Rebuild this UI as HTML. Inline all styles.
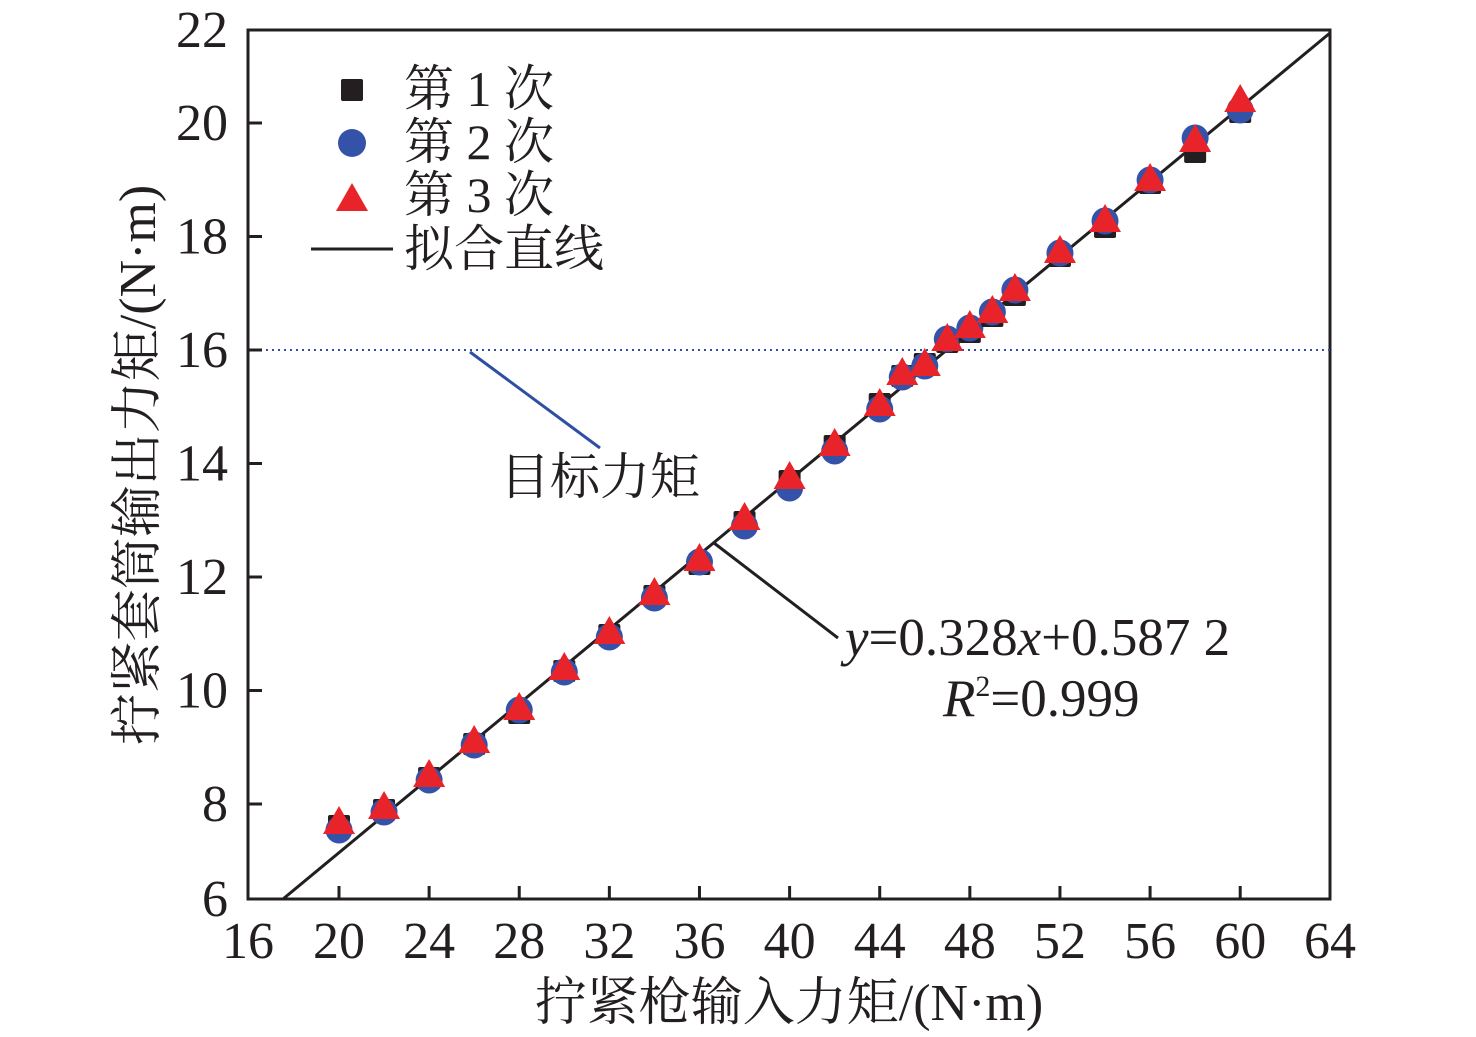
<!DOCTYPE html>
<html><head><meta charset="utf-8"><style>
html,body{margin:0;padding:0;background:#fff;}
svg{display:block;}
text{font-family:"Liberation Serif","Noto Serif CJK SC",serif;fill:#231f20;}
</style></head><body>
<svg id="s" width="1476" height="1037" viewBox="0 0 1476 1037" xmlns="http://www.w3.org/2000/svg">
<rect x="248" y="30" width="1082" height="869" fill="none" stroke="#231f20" stroke-width="3"/>
<line x1="248" y1="350" x2="1330" y2="350" stroke="#2f4fa2" stroke-width="2" stroke-dasharray="2,4"/>
<g id="ticks" stroke="#231f20" stroke-width="3"></g>
<g font-size="52" text-anchor="end" id="ylab"></g>
<g font-size="52" text-anchor="middle" id="xlab"></g>
<line x1="283" y1="899" x2="1330" y2="33" stroke="#231f20" stroke-width="3"/>
<g id="pts"></g>
<rect x="341" y="79" width="22" height="22" rx="2" fill="#231f20"/>
<circle cx="352" cy="143" r="14" fill="#3452a8"/>
<polygon points="352,183 336,211 368,211" fill="#e8242a"/>
<line x1="311" y1="249" x2="393" y2="249" stroke="#231f20" stroke-width="3"/>
<g font-size="50">
<text x="404" y="106">第 1 次</text>
<text x="404" y="159">第 2 次</text>
<text x="404" y="212">第 3 次</text>
<text x="404" y="266">拟合直线</text>
<text x="500" y="494">目标力矩</text>
</g>
<line x1="470" y1="352" x2="600" y2="448" stroke="#2f4fa2" stroke-width="3"/>
<line x1="714" y1="543" x2="838" y2="638" stroke="#231f20" stroke-width="3"/>
<text x="845" y="655" font-size="53"><tspan font-style="italic">y</tspan>=0.328<tspan font-style="italic">x</tspan>+0.587 2</text>
<text x="943" y="716" font-size="53"><tspan font-style="italic">R</tspan><tspan font-size="30" dy="-20">2</tspan><tspan dy="20">=0.999</tspan></text>
<text x="789" y="1020" font-size="52" text-anchor="middle">拧紧枪输入力矩/(N·m)</text>
<text transform="translate(155,465) rotate(-90)" font-size="52" text-anchor="middle">拧紧套筒输出力矩/(N·m)</text>
</svg>
<script>
var NS="http://www.w3.org/2000/svg";
function el(p,t,a,txt){var e=document.createElementNS(NS,t);for(var k in a)e.setAttribute(k,a[k]);if(txt)e.textContent=txt;document.getElementById(p).appendChild(e);}
function X(v){return 339+(v-20)*22.53;}
function Y(v){return 123+(20-v)*56.75;}
for(var v=16;v<=64;v+=4){var x=X(v);if(v==16)x=248;if(v==64)x=1330;
 if(v>16&&v<64)el("ticks","line",{x1:x,y1:899,x2:x,y2:886});
 el("xlab","text",{x:x,y:958},String(v));}
for(var v=6;v<=22;v+=2){var y=Y(v);if(v==6)y=899;if(v==22)y=30;
 if(v>6&&v<22)el("ticks","line",{x1:248,y1:y,x2:262,y2:y});
 el("ylab","text",{x:228,y:y+17},String(v));}
var d=[[20,826,830,823],[22,810,812,808],[24,778,780,776],[26,744,745,742],[28,713,710,709],[30,671,672,669],[32,635,637,633],[34,596,598,594],[36,564,562,560],[38,522,526,519],[40,481,488,478],[42,446,451,445],[44,404,409,405],[45,376,377,374],[46,364,366,365],[47,342,339,340],[48,332,328,327],[49,316,312,312],[50,295,290,290],[52,256,253,252],[54,227,221,221],[56,183,180,180],[58,152,138,141],[60,112,110,101]];
d.forEach(function(p){var x=X(p[0]);
 el("pts","rect",{x:x-11,y:p[1]-11,width:22,height:22,rx:2,fill:"#231f20"});
 el("pts","circle",{cx:x,cy:p[2],r:13.5,fill:"#3452a8"});
 var t=p[3];el("pts","polygon",{points:x+","+(t-17)+" "+(x-16)+","+(t+11)+" "+(x+16)+","+(t+11),fill:"#e8242a"});
});
</script>
</body></html>
